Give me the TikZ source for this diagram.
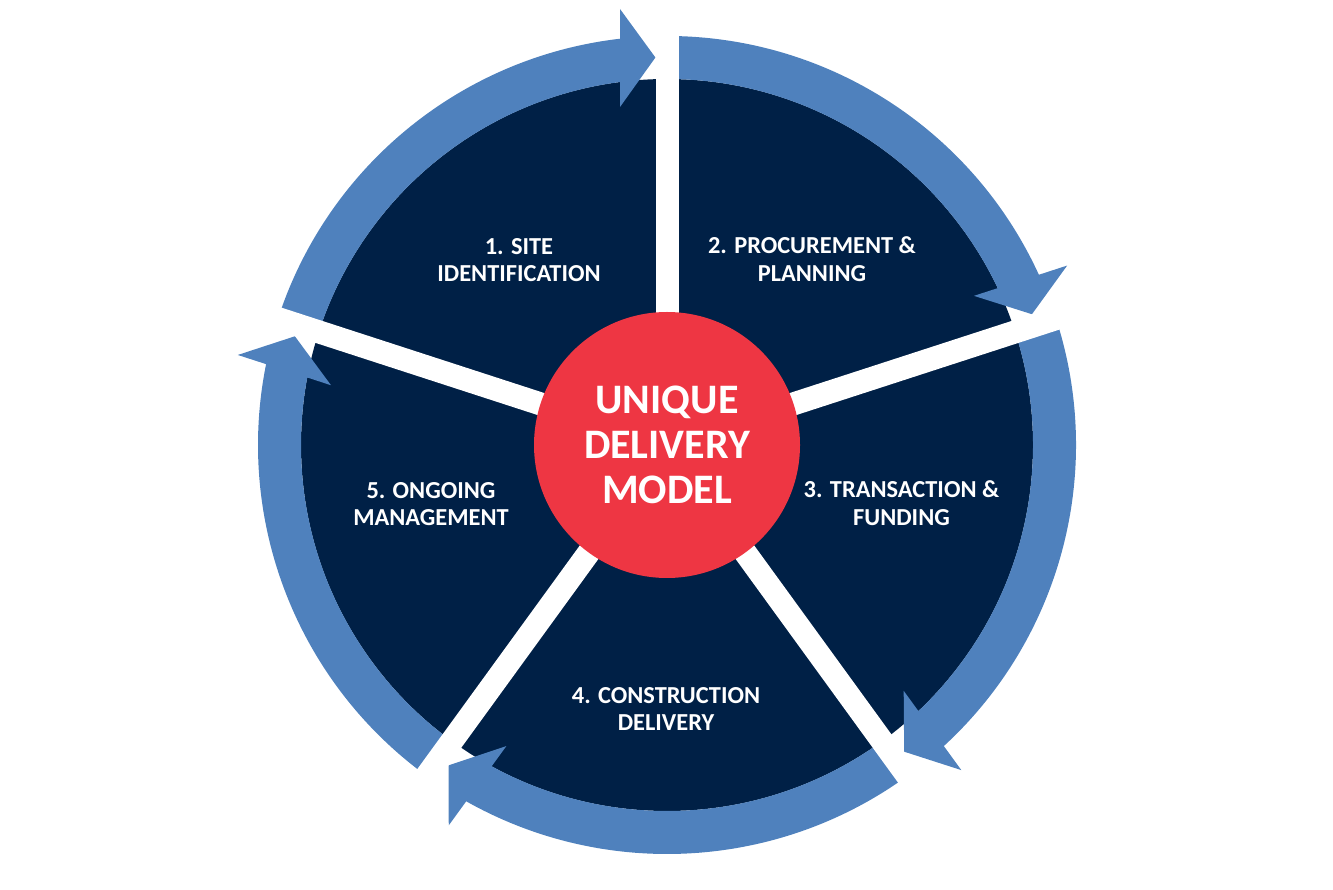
\documentclass[tikz,border=0pt]{standalone}
\usepackage{fontspec}
\setmainfont{Carlito}
\definecolor{navy}{RGB}{0,32,70}
\definecolor{ringblue}{RGB}{79,129,189}
\definecolor{hubred}{RGB}{238,54,67}
\tikzset{
  ringarrow/.style={fill=ringblue},
  gapline/.style={draw=white,line width=23pt,line cap=butt},
  label/.style={text=white,align=center,font=\fontsize{24.4}{27.5}\selectfont\bfseries,inner sep=0pt},
  hubstyle/.style={circle,fill=hubred,minimum size=266pt,inner sep=0pt,text=white,align=center,font=\fontsize{42}{45}\selectfont\bfseries}
}
% #1 = angle of the gap the arrow points to; segment spans 72 degrees before it
\newcommand{\ringseg}[1]{%
  \begin{scope}[rotate=#1]
  \fill[ringarrow] (72:409pt) arc[start angle=72, end angle=6.598, radius=409pt]
    -- (436pt,47pt) -- (387.5pt,11.6pt) -- (338pt,47pt) -- (7.378:366pt)
    arc[start angle=7.378, end angle=72, radius=366pt] -- cycle;
  \end{scope}}
\begin{document}
\begin{tikzpicture}
\path[use as bounding box] (0pt,0pt) rectangle (1333pt,889pt);
\coordinate (C) at (667pt,444pt);
\begin{scope}[shift={(C)}]
  \fill[navy] (0,0) circle[radius=366pt];
  \foreach \g in {90,18,-54,-126,162} { \ringseg{\g} }
  \foreach \a in {90,18,-54,-126,162}
    \draw[gapline] (0,0) -- (\a:455pt);
\end{scope}
\node[hubstyle] (hub) at (C) {UNIQUE\\DELIVERY\\MODEL};
\node[label] (s1) at (519pt,629pt) {1. SITE\\IDENTIFICATION};
\node[label] (s2) at (812pt,630pt) {2. PROCUREMENT \&\\PLANNING};
\node[label] (s3) at (901.5pt,386pt) {3. TRANSACTION \&\\FUNDING};
\node[label] (s4) at (666pt,180pt) {4. CONSTRUCTION\\DELIVERY};
\node[label] (s5) at (431pt,385pt) {5. ONGOING\\MANAGEMENT};
\end{tikzpicture}
\end{document}
